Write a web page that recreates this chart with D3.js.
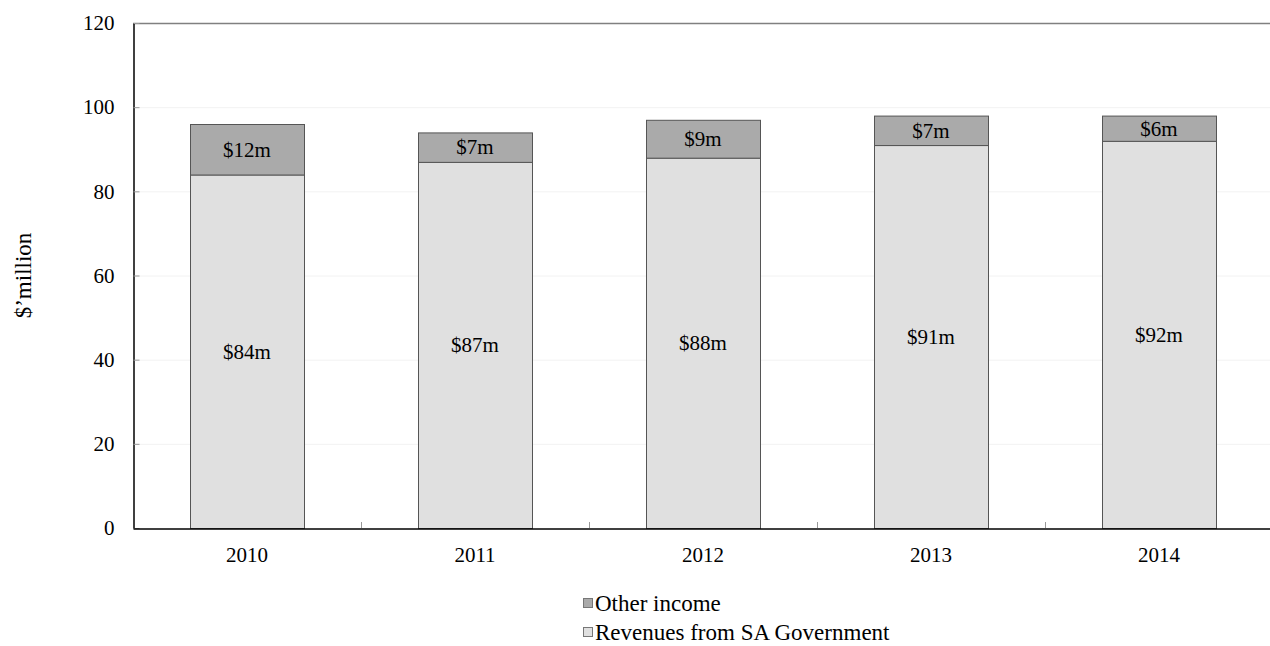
<!DOCTYPE html>
<html>
<head>
<meta charset="utf-8">
<script src="https://cdn.jsdelivr.net/npm/d3@7"></script>
<style>
  html, body { margin: 0; padding: 0; background: #fff; }
</style>
</head>
<body>
<svg id="chart" width="1270" height="646" font-family="Liberation Serif, Times New Roman, serif"></svg>
<script>
// Income by year, $ million
const years = ["2010", "2011", "2012", "2013", "2014"];
const revenuesSAGov = [84, 87, 88, 91, 92];
const otherIncome = [12, 7, 9, 7, 6];
const yTicks = [0, 20, 40, 60, 80, 100, 120];
const seriesNames = ["Revenues from SA Government", "Other income"];
const seriesColors = ["#e0e0e0", "#aaaaaa"];

const FONT = "Liberation Serif, Times New Roman, serif";
const svg = d3.select("#chart");
const margin = { left: 133, top: 23, bottom: 118 };
const plotW = 228 * years.length;
const plotH = 646 - margin.top - margin.bottom;

const x = d3.scaleBand().domain(years).range([margin.left, margin.left + plotW]).paddingInner(0.5).paddingOuter(0.25);
const xb = d3.scaleBand().domain(years).range([margin.left, margin.left + plotW]);
const y = d3.scaleLinear().domain([0, 120]).range([margin.top + plotH, margin.top]);

// faint gridlines
svg.append("g").selectAll("line").data(yTicks.filter(t => t > 0 && t < 120)).join("line")
  .attr("x1", margin.left).attr("x2", margin.left + plotW)
  .attr("y1", d => y(d) + 0.5).attr("y2", d => y(d) + 0.5)
  .attr("stroke", "#f2f2f2").attr("stroke-width", 1);

// top frame line
svg.append("line")
  .attr("x1", margin.left).attr("x2", margin.left + plotW)
  .attr("y1", y(120) + 0.5).attr("y2", y(120) + 0.5)
  .attr("stroke", "#808080").attr("stroke-width", 1.5);

// stacked data
const rows = years.map((yr, i) => ({ year: yr, gov: revenuesSAGov[i], other: otherIncome[i] }));
const stack = d3.stack().keys(["gov", "other"])(rows);

const layers = svg.append("g").selectAll("g").data(stack).join("g")
  .attr("fill", (d, i) => seriesColors[i]);

layers.selectAll("rect").data(d => d).join("rect")
  .attr("x", d => x(d.data.year) + 0.5)
  .attr("width", x.bandwidth())
  .attr("y", d => y(d[1]) + 0.5)
  .attr("height", d => y(d[0]) - y(d[1]))
  .attr("stroke", "#555").attr("stroke-width", 1);

// segment value labels
layers.selectAll("text").data(d => d).join("text")
  .attr("x", d => x(d.data.year) + x.bandwidth() / 2)
  .attr("y", d => y((d[0] + d[1]) / 2))
  .attr("dy", "0.35em")
  .attr("text-anchor", "middle")
  .attr("font-size", 21)
  .attr("fill", "#000")
  .attr("font-family", FONT)
  .text(d => "$" + (d[1] - d[0]) + "m");

// y axis
const yAxis = d3.axisLeft(y).tickValues(yTicks).tickSizeInner(-6).tickSizeOuter(0);
const gy = svg.append("g").attr("transform", `translate(${margin.left + 0.5},0)`).call(yAxis)
  .attr("font-family", FONT).attr("font-size", 21);
gy.select(".domain").attr("stroke", "#000").attr("stroke-width", 1.5);
gy.selectAll(".tick line").attr("stroke", "#999");
gy.selectAll(".tick text").attr("text-anchor", "end").attr("x", -19);

// x axis
const xAxis = d3.axisBottom(x).tickSize(0).tickPadding(19);
const gx = svg.append("g").attr("transform", `translate(0,${y(0) + 0.5})`).call(xAxis)
  .attr("font-family", FONT).attr("font-size", 21);
gx.select(".domain").attr("stroke", "#000").attr("stroke-width", 1.5);

// category separators on x axis
svg.append("g").selectAll("line").data(years.slice(1)).join("line")
  .attr("x1", d => xb(d) + 0.5).attr("x2", d => xb(d) + 0.5)
  .attr("y1", y(0)).attr("y2", y(0) - 6)
  .attr("stroke", "#999");

// y axis title
svg.append("text")
  .attr("transform", `translate(31,${margin.top + plotH / 2}) rotate(-90)`)
  .attr("text-anchor", "middle")
  .attr("font-size", 23)
  .attr("font-family", FONT)
  .text("$\u2019million");

// legend
const legendItems = [
  { name: seriesNames[1], color: seriesColors[1] },
  { name: seriesNames[0], color: seriesColors[0] }
];
const lg = svg.append("g").attr("transform", "translate(583,611)");
const li = lg.selectAll("g").data(legendItems).join("g")
  .attr("transform", (d, i) => `translate(0,${i * 29})`);
li.append("rect").attr("x", 0.5).attr("y", -12.5).attr("width", 9).attr("height", 9)
  .attr("fill", d => d.color).attr("stroke", "#777");
li.append("text").attr("x", 12).attr("y", 0)
  .attr("font-size", 23).attr("font-family", FONT).text(d => d.name);
</script>
</body>
</html>
